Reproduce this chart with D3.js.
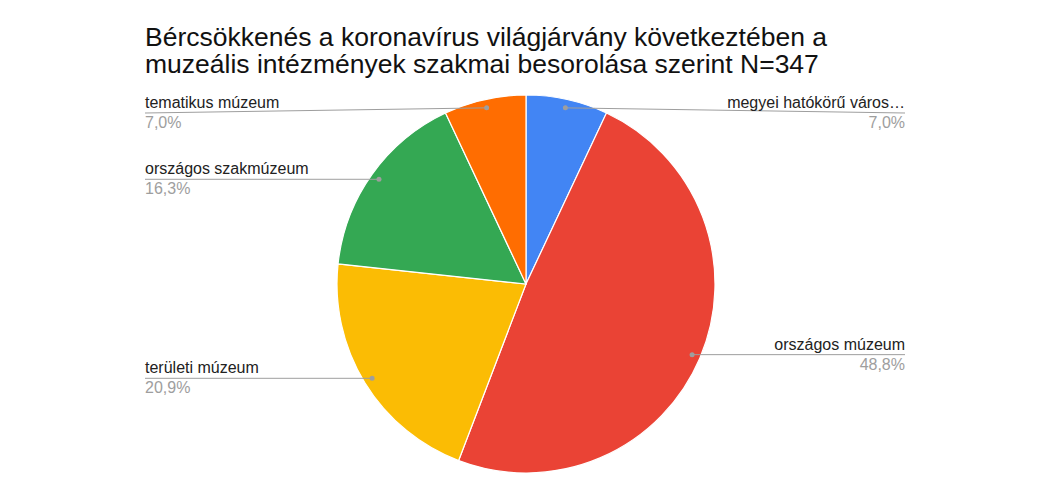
<!DOCTYPE html>
<html>
<head>
<meta charset="utf-8">
<script src="https://cdn.jsdelivr.net/npm/d3@7"></script>
<style>
  body { margin: 0; background: #fff; }
  svg { display: block; font-family: "Liberation Sans", Arial, sans-serif; }
</style>
</head>
<body>
<svg width="1050" height="500"></svg>
<script>
// adatok
var categories = ["megyei hatókörű városi múzeum", "országos múzeum", "területi múzeum", "országos szakmúzeum", "tematikus múzeum"];
var shortNames = ["megyei hatókörű város…", "országos múzeum", "területi múzeum", "országos szakmúzeum", "tematikus múzeum"];
var values = [7.0, 48.8, 20.9, 16.3, 7.0];
var colors = ["#4285f4", "#ea4335", "#fbbc04", "#34a853", "#ff6d01"];
var titleLines = ["Bércsökkenés a koronavírus világjárvány következtében a", "muzeális intézmények szakmai besorolása szerint N=347"];

var svg = d3.select("svg");
var cx = 526, cy = 284, radius = 189;
var labelLeft = 145, labelRight = 905, labelTop = 113;

// cím
svg.append("g").selectAll("text")
    .data(titleLines)
    .enter().append("text")
    .attr("x", 145)
    .attr("y", function(d, i) { return 46 + i * 27; })
    .attr("font-size", 26.5)
    .attr("fill", "#111")
    .text(function(d) { return d; });

var pie = d3.pie().sort(null).value(function(d) { return d; });
var arcs = pie(values);

var arc = d3.arc().innerRadius(0).outerRadius(radius);
var dotArc = d3.arc().innerRadius(radius * 0.955).outerRadius(radius * 0.955);

var g = svg.append("g").attr("transform", "translate(" + cx + "," + cy + ")");

g.selectAll("path")
    .data(arcs)
    .enter().append("path")
    .attr("d", arc)
    .attr("fill", function(d, i) { return colors[i]; })
    .attr("stroke", "#fff")
    .attr("stroke-width", 1.2);

// címkék
var fmt = function(v) { return d3.format(".1f")(v).replace(".", ",") + "%"; };

var lab = g.selectAll("g.lab")
    .data(arcs)
    .enter().append("g").attr("class", "lab");

lab.each(function(d, i) {
  var c = dotArc.centroid(d);
  var right = (d.startAngle + d.endAngle) / 2 < Math.PI;
  var ly = Math.max(c[1], labelTop - cy);
  var lx = right ? labelRight - cx : labelLeft - cx;
  var sel = d3.select(this);
  sel.append("line")
      .attr("x1", c[0]).attr("y1", c[1])
      .attr("x2", lx).attr("y2", ly)
      .attr("stroke", "#9e9e9e")
      .attr("stroke-width", 1);
  sel.append("circle")
      .attr("cx", c[0]).attr("cy", c[1]).attr("r", 2.5)
      .attr("fill", "#9e9e9e");
  sel.append("text")
      .attr("x", lx).attr("y", ly - 5)
      .attr("text-anchor", right ? "end" : "start")
      .attr("font-size", 16)
      .attr("fill", "#222")
      .text(shortNames[i]);
  sel.append("text")
      .attr("x", lx).attr("y", ly + 15)
      .attr("text-anchor", right ? "end" : "start")
      .attr("font-size", 16)
      .attr("fill", "#9e9e9e")
      .text(fmt(values[i]));
});
</script>
</body>
</html>
